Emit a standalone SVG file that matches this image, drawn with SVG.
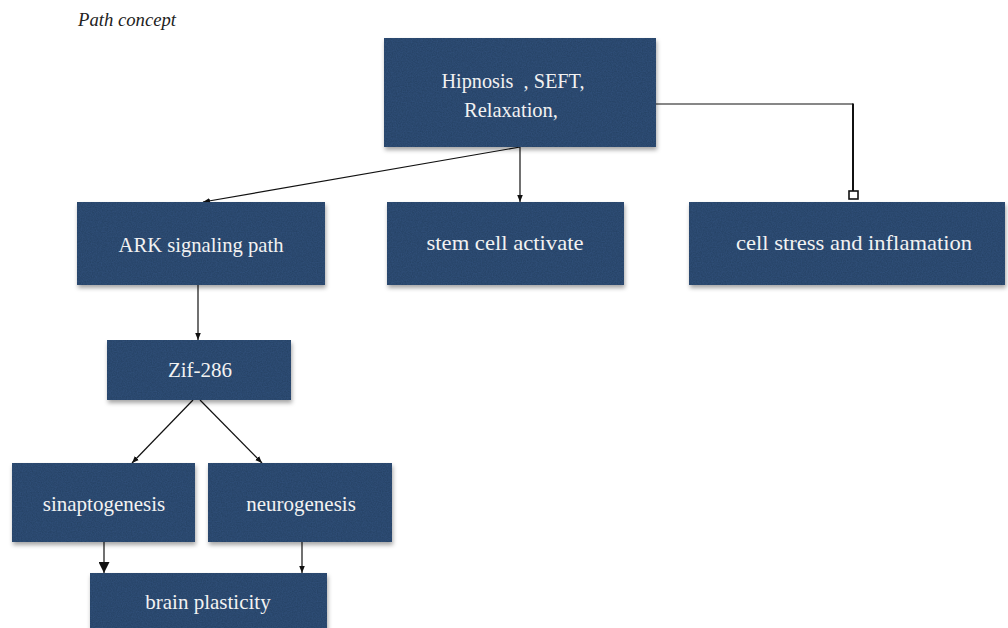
<svg xmlns="http://www.w3.org/2000/svg" width="1008" height="628" viewBox="0 0 1008 628">
<style>
.box{fill:#2f4e77;filter:url(#sh);}
.t{font-family:"Liberation Serif","DejaVu Serif",serif;font-size:21px;fill:#f2f2f2;text-anchor:middle;white-space:pre;}
.c{fill:none;stroke:#111;stroke-width:1.2;}
</style>
<defs>
<filter id="sh" x="-5%" y="-5%" width="112%" height="125%" color-interpolation-filters="sRGB">
<feTurbulence type="fractalNoise" baseFrequency="0.8" numOctaves="2" seed="3" result="n"/>
<feColorMatrix in="n" type="matrix" values="0 0 0 0 0.14  0 0 0 0 0.25  0 0 0 0 0.38  0 0 0 -1.2 0.95" result="nc"/>
<feComposite in="nc" in2="SourceGraphic" operator="in" result="tex"/>
<feMerge result="boxt"><feMergeNode in="SourceGraphic"/><feMergeNode in="tex"/></feMerge>
<feGaussianBlur in="SourceAlpha" stdDeviation="2"/>
<feOffset dx="1" dy="3" result="b"/>
<feFlood flood-color="#000" flood-opacity="0.35"/>
<feComposite in2="b" operator="in" result="s"/>
<feMerge><feMergeNode in="s"/><feMergeNode in="boxt"/></feMerge>
</filter>
<marker id="ar" viewBox="0 0 10 10" refX="10" refY="5" markerWidth="7" markerHeight="7" orient="auto" markerUnits="userSpaceOnUse">
<path d="M0,1 L10,5 L0,9 z" fill="#111"/>
</marker>
<marker id="arb" viewBox="0 0 10 10" refX="10" refY="5" markerWidth="11" markerHeight="11" orient="auto" markerUnits="userSpaceOnUse">
<path d="M0,0 L10,5 L0,10 z" fill="#111"/>
</marker>
</defs>
<rect width="1008" height="628" fill="#fff"/>
<text x="78" y="26" font-family="Liberation Serif, serif" font-style="italic" font-size="19" fill="#222" textLength="98" lengthAdjust="spacingAndGlyphs">Path concept</text>

<g id="connectors">
<line class="c" x1="520" y1="147" x2="203" y2="202" marker-end="url(#ar)"/>
<line class="c" x1="520" y1="147" x2="520" y2="202" marker-end="url(#ar)"/>
<path d="M656,104 H853" fill="none" stroke="#111" stroke-width="1.2"/>
<path d="M853,103.4 V191" fill="none" stroke="#111" stroke-width="2"/>
<rect x="849" y="191" width="9" height="8" fill="#fff" stroke="#111" stroke-width="1.6"/>
<line class="c" x1="198" y1="285" x2="198" y2="340" marker-end="url(#ar)"/>
<line class="c" x1="193" y1="400" x2="132" y2="463" marker-end="url(#ar)"/>
<line class="c" x1="200" y1="400" x2="262" y2="463" marker-end="url(#ar)"/>
<line class="c" x1="104" y1="542" x2="104" y2="573" marker-end="url(#arb)"/>
<line class="c" x1="302" y1="542" x2="302" y2="573" marker-end="url(#ar)"/>
</g>

<g id="n-top"><rect class="box" x="384" y="38" width="272" height="109"/>
<text class="t" x="513" y="88" textLength="143" lengthAdjust="spacingAndGlyphs">Hipnosis  , SEFT,</text>
<text class="t" x="511" y="117" textLength="94" lengthAdjust="spacingAndGlyphs">Relaxation,</text></g>
<g id="n-ark"><rect class="box" x="77" y="202" width="248" height="83"/>
<text class="t" x="201" y="252" textLength="165" lengthAdjust="spacingAndGlyphs">ARK signaling path</text></g>
<g id="n-stem"><rect class="box" x="387" y="202" width="237" height="83"/>
<text class="t" x="505" y="250" textLength="157" lengthAdjust="spacingAndGlyphs">stem cell activate</text></g>
<g id="n-stress"><rect class="box" x="689" y="202" width="316" height="83"/>
<text class="t" x="854" y="250" textLength="236" lengthAdjust="spacingAndGlyphs">cell stress and inflamation</text></g>
<g id="n-zif"><rect class="box" x="107" y="340" width="184" height="60"/>
<text class="t" x="200" y="377">Zif-286</text></g>
<g id="n-sinap"><rect class="box" x="12" y="463" width="183" height="79"/>
<text class="t" x="104" y="511">sinaptogenesis</text></g>
<g id="n-neuro"><rect class="box" x="208" y="463" width="184" height="79"/>
<text class="t" x="301" y="511">neurogenesis</text></g>
<g id="n-brain"><rect class="box" x="90" y="573" width="237" height="70"/>
<text class="t" x="208" y="609">brain plasticity</text></g>
</svg>
